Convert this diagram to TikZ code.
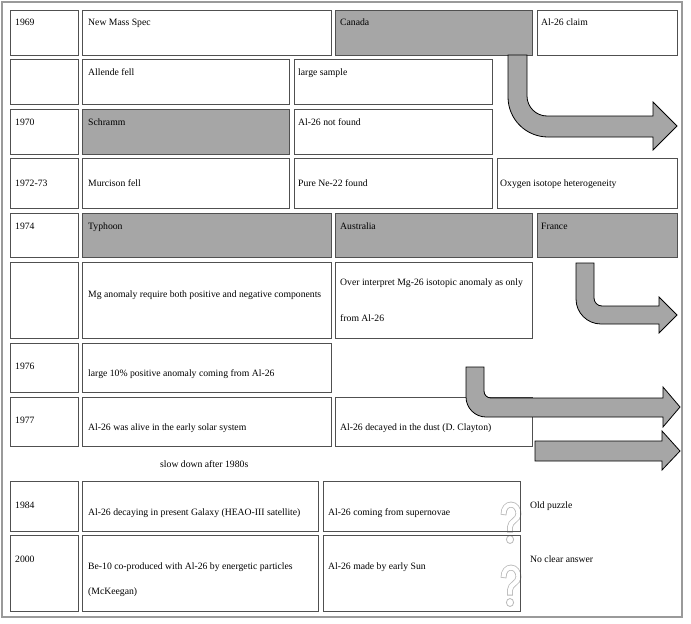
\documentclass[tikz,border=0pt]{standalone}
\usepackage{fontspec}
\setmainfont{Liberation Serif}
\definecolor{cellgray}{HTML}{A6A6A6}
\definecolor{cellline}{HTML}{505050}
\definecolor{framecol}{HTML}{9A9A9A}
\definecolor{qcol}{HTML}{B8B8B8}
\tikzset{
  cellbox/.style={draw=cellline, line width=0.9pt, inner sep=0pt, outer sep=0pt, anchor=north west},
  shaded/.style={cellbox, fill=cellgray},
  txt/.style={anchor=base west, inner sep=0pt, font=\fontsize{9.7}{11}\selectfont},
  bigarrow/.style={fill=cellgray, draw=black, line width=0.8pt, line join=miter},
  qouter/.style={draw=qcol, line width=5.8pt},
  qinner/.style={draw=white, line width=4.2pt, shorten <=0.8pt, shorten >=0.8pt},
}
\newcommand\cell[6]{\node[#6, minimum width={(#4-#2)*1pt}, minimum height={(#5-#3)*1pt}] (#1) at (#2,#3) {};}
\newcommand\qpath[2]{(#1+3.5,#2+13) .. controls (#1+3.5,#2+6) and (#1+7,#2+2.6) .. (#1+11,#2+2.6) .. controls (#1+15.5,#2+2.6) and (#1+18.5,#2+7) .. (#1+18.5,#2+12) .. controls (#1+18.5,#2+18) and (#1+10,#2+19) .. (#1+10,#2+25) -- (#1+10,#2+30.5)}
\newcommand\qmark[2]{%
  \path[qouter] \qpath{#1}{#2};
  \path[qinner] \qpath{#1}{#2};
  \draw[qcol, line width=0.8pt] (#1+10,#2+37.5) ellipse[x radius=3.6pt, y radius=4pt];
}
\begin{document}
\begin{tikzpicture}[x=1pt,y=-1pt]
\useasboundingbox (0,0) rectangle (691,624);
\draw[framecol, line width=1.2pt] (2,2) rectangle (682,617);

% question marks (drawn first, boxes over them)
\qmark{500}{502}
\qmark{500}{565}

% row 1
\cell{y1969}{10}{10}{78}{55}{cellbox}
\cell{c1a}{82}{10}{331}{55}{cellbox}
\cell{c1b}{335}{10}{532}{55}{shaded}
\cell{c1c}{537}{10}{677}{55}{cellbox}
% row 2
\cell{y2}{10}{59}{78}{104}{cellbox}
\cell{c2a}{82}{59}{289}{104}{cellbox}
\cell{c2b}{294}{59}{492}{104}{cellbox}
% row 3
\cell{y1970}{10}{109}{78}{154}{cellbox}
\cell{c3a}{82}{109}{289}{154}{shaded}
\cell{c3b}{294}{109}{492}{154}{cellbox}
% row 4
\cell{y1972}{10}{158}{78}{208}{cellbox}
\cell{c4a}{82}{158}{289}{208}{cellbox}
\cell{c4b}{294}{158}{492}{208}{cellbox}
\cell{c4c}{497}{158}{677}{208}{cellbox}
% row 5
\cell{y1974}{10}{213}{78}{257}{cellbox}
\cell{c5a}{82}{213}{331}{257}{shaded}
\cell{c5b}{335}{213}{532}{257}{shaded}
\cell{c5c}{537}{213}{677}{257}{shaded}
% row 6
\cell{y6}{10}{262}{78}{338}{cellbox}
\cell{c6a}{82}{262}{331}{338}{cellbox}
\cell{c6b}{335}{262}{532}{338}{cellbox}
% row 7
\cell{y1976}{10}{343}{78}{392}{cellbox}
\cell{c7a}{82}{343}{331}{392}{cellbox}
% row 8
\cell{y1977}{10}{397}{78}{446}{cellbox}
\cell{c8a}{82}{397}{331}{446}{cellbox}
\cell{c8b}{335}{397}{532}{446}{cellbox}
% row 9
\cell{y1984}{10}{481}{78}{531}{cellbox}
\cell{c9a}{82}{481}{318}{531}{cellbox}
\cell{c9b}{323}{481}{520}{531}{cellbox}
% row 10
\cell{y2000}{10}{535}{78}{611}{cellbox}
\cell{c10a}{82}{535}{318}{611}{cellbox}
\cell{c10b}{323}{535}{520}{611}{cellbox}

% arrows
\path[bigarrow] (508,55) -- (508,97) .. controls (508,119.1) and (525.9,137) .. (548,137) -- (653,137) -- (653,150) -- (677,126) -- (653,102) -- (653,116) -- (547,116) .. controls (536,116) and (527,107) .. (527,96) -- (527,55) -- cycle;
\path[bigarrow] (576,263) -- (576,299) .. controls (576,312.8) and (587.2,324) .. (601,324) -- (659,324) -- (659,333) -- (677,315) -- (659,297) -- (659,306) -- (602,306) .. controls (597.6,306) and (594,302.4) .. (594,298) -- (594,263) -- cycle;
\path[bigarrow] (466,367) -- (466,397) .. controls (466,408) and (475,417) .. (486,417) -- (663,417) -- (663,427) -- (680,407) -- (663,387) -- (663,398) -- (491,398) .. controls (487.1,398) and (484,394.9) .. (484,391) -- (484,367) -- cycle;
\path[bigarrow] (535,441) -- (662,441) -- (662,431) -- (680,451) -- (662,470) -- (662,461) -- (535,461) -- cycle;

% texts
\node[txt] (t1) at (15,25.5) {1969};
\node[txt] (t2) at (88,25.5) {New Mass Spec};
\node[txt] (t3) at (340,25.5) {Canada};
\node[txt] (t4) at (541,25.5) {Al-26 claim};
\node[txt] (t5) at (88,75.5) {Allende fell};
\node[txt] (t6) at (298,75.5) {large sample};
\node[txt] (t7) at (15,125.5) {1970};
\node[txt] (t8) at (88,125.5) {Schramm};
\node[txt] (t9) at (298,125.5) {Al-26 not found};
\node[txt] (t10) at (15,186.5) {1972-73};
\node[txt] (t11) at (88,186.5) {Murcison fell};
\node[txt] (t12) at (298,186.5) {Pure Ne-22 found};
\node[txt] (t13) at (500,186.5) {Oxygen isotope heterogeneity};
\node[txt] (t14) at (15,229.5) {1974};
\node[txt] (t15) at (88,229.5) {Typhoon};
\node[txt] (t16) at (340,229.5) {Australia};
\node[txt] (t17) at (541,229.5) {France};
\node[txt] (t18) at (88,297.5) {Mg anomaly require both positive and negative components};
\node[txt] (t19) at (340,285.5) {Over interpret Mg-26 isotopic anomaly as only};
\node[txt] (t20) at (340,321.5) {from Al-26};
\node[txt] (t21) at (15,369.5) {1976};
\node[txt] (t22) at (88,376.5) {large 10\% positive anomaly coming from Al-26};
\node[txt] (t23) at (15,423.5) {1977};
\node[txt] (t24) at (88,430.5) {Al-26 was alive in the early solar system};
\node[txt] (t25) at (340,430.5) {Al-26 decayed in the dust (D. Clayton)};
\node[txt] (t26) at (160,467.5) {slow down after 1980s};
\node[txt] (t27) at (15,508.5) {1984};
\node[txt] (t28) at (88,515.5) {Al-26 decaying in present Galaxy (HEAO-III satellite)};
\node[txt] (t29) at (328,515.5) {Al-26 coming from supernovae};
\node[txt] (t30) at (530,508.5) {Old puzzle};
\node[txt] (t31) at (15,562.5) {2000};
\node[txt] (t32) at (88,569.5) {Be-10 co-produced with Al-26 by energetic particles};
\node[txt] (t33) at (88,594.5) {(McKeegan)};
\node[txt] (t34) at (328,569.5) {Al-26 made by early Sun};
\node[txt] (t35) at (530,562.5) {No clear answer};
\end{tikzpicture}
\end{document}
